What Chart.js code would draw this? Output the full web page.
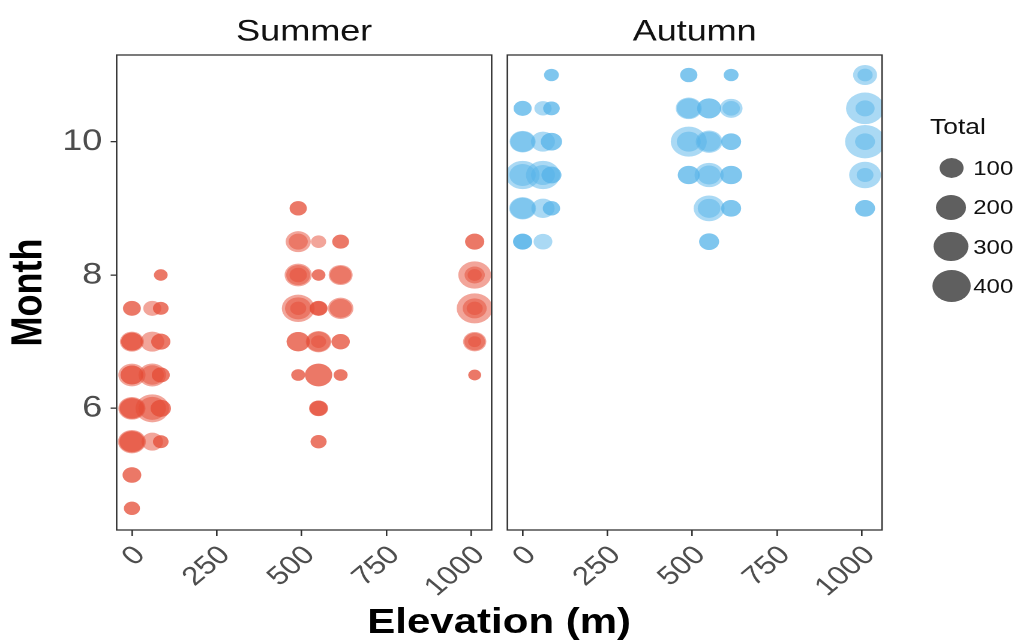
<!DOCTYPE html>
<html>
<head>
<meta charset="utf-8">
<script src="https://cdn.jsdelivr.net/npm/chart.js@4/dist/chart.umd.min.js"></script>
<style>
  html, body { margin: 0; padding: 0; background: #fff; overflow: hidden; }
  #wrap { position: absolute; left: 0; top: 0; width: 852px; height: 644px;
          transform: scaleX(1.2); transform-origin: 0 0; font-family: "Liberation Sans", Arial, sans-serif; }
  .panel { position: absolute; top: 0; height: 644px; }
  #xtitle { position: absolute; left: 216px; width: 400px; top: 603px; text-align: center;
            font-weight: bold; font-size: 35px; line-height: 35px; color: #000; }
  #legend { position: absolute; left: 775px; top: 114px; width: 80px; }
  #legend .ttl { position: absolute; left: 0; top: 0; font-size: 22px; line-height: 26px; color: #111; white-space: nowrap; }
  #legend .key { position: absolute; background: #5f5f5f; border-radius: 50%; }
  #legend .lab { position: absolute; left: 36px; font-size: 20px; line-height: 24px; color: #111; }
</style>
</head>
<body>
<div id="wrap">
  <div class="panel" style="left:0;width:412px"><canvas id="summer"></canvas></div>
  <div class="panel" style="left:412px;width:330px"><canvas id="autumn"></canvas></div>
  <div id="xtitle">Elevation (m)</div>
  <div id="legend"></div>
</div>
<script>
// Summer points: elevation (m), month, total
var summerElevation = [0,0, 0,0,0, 0,0,0, 0,0,0, 0,0,0, 0,0, 0,0,
  60, 60, 60,60, 60,60, 60,
  85,85, 85,85, 85,85, 85,85, 85,85, 85,85,
  490,490, 490,490, 490,490,490, 490,490,490, 490,490, 490,490,
  550, 550,550, 550,550,550, 550,550,550, 550,550, 550,550,550, 550,550,
  615,615, 615,615, 615,615, 615,615, 615,615,
  1010,1010, 1010,1010,1010, 1010,1010,1010, 1010,1010,1010, 1010,1010]
var summerMonth = [7.5,7.5, 7,7,7, 6.5,6.5,6.5, 6,6,6, 5.5,5.5,5.5, 5,5, 4.5,4.5,
  7.5, 7, 6.5,6.5, 6,6, 5.5,
  8,8, 7.5,7.5, 7,7, 6.5,6.5, 6,6, 5.5,5.5,
  9,9, 8.5,8.5, 8,8,8, 7.5,7.5,7.5, 7,7, 6.5,6.5,
  8.5, 8,8, 7.5,7.5,7.5, 7,7,7, 6.5,6.5, 6,6,6, 5.5,5.5,
  8.5,8.5, 8,8, 7.5,7.5, 7,7, 6.5,6.5,
  8.5,8.5, 8,8,8, 7.5,7.5,7.5, 7,7,7, 6.5,6.5]
var summerTotal = [34,30, 100,70,70, 150,84,84, 150,120,100, 163,130,110, 40,40, 20,20,
  34, 100, 156,90, 278,156, 69,
  8,8, 17,17, 44,44, 34,34, 56,56, 17,17,
  28,28, 117,44, 150,100,30, 260,136,20, 90,90, 9,9,
  15, 8,8, 34,34,25, 123,100,15, 150,150, 41,41,30, 20,20,
  25,25, 100,69, 123,80, 37,37, 9,9,
  44,44, 260,55,10, 336,100,20, 90,60,6, 5,5]

// Autumn points: elevation (m), month, total
var autumnElevation = [0,0, 0,0, 0,0, 0,0, 0,0,0,
  60, 60, 60,60, 60, 60,
  85,85, 85,85, 85,85, 85,85, 85,85,
  490,490, 490,490, 490,490, 490,490,
  550,550, 550,550, 550,550, 550,550, 550,550,
  615,615, 615,615, 615,615, 615,615, 615,615,
  1010,1010, 1010,1010, 1010,1010, 1010,1010, 1010,1010]
var autumnMonth = [10.5,10.5, 10,10, 9.5,9.5, 9,9, 8.5,8.5,8.5,
  10.5, 10, 9.5,9.5, 9, 8.5,
  11,11, 10.5,10.5, 10,10, 9.5,9.5, 9,9,
  11,11, 10.5,10.5, 10,10, 9.5,9.5,
  10.5,10.5, 10,10, 9.5,9.5, 9,9, 8.5,8.5,
  11,11, 10.5,10.5, 10,10, 9.5,9.5, 9,9,
  11,11, 10.5,10.5, 10,10, 9.5,9.5, 9,9]
var autumnTotal = [34,34, 130,110, 287,136, 143,120, 44,44,40,
  28, 100, 287,100, 90, 41,
  13,13, 23,23, 65,65, 52,52, 28,28,
  28,28, 130,100, 336,100, 74,74,
  100,100, 143,100, 185,84, 218,84, 52,52,
  13,13, 84,30, 52,52, 74,74, 52,52,
  100,15, 390,44, 445,52, 238,25, 52,52]

var elevationTicks = [0, 250, 500, 750, 1000]
var monthTicks = [6, 8, 10]
var legendTotals = [100, 200, 300, 400]

var FONT = "'Liberation Sans', Arial, sans-serif"
Chart.defaults.font.family = FONT

// size scale: bubble radius from total
function sizeOf(total) {
  return 4 + 0.6 * Math.sqrt(total)
}

function points(elev, month, total) {
  var out = []
  for (var i = 0; i < elev.length; i++) {
    out.push({ x: elev[i], y: month[i], r: sizeOf(total[i]) })
  }
  return out
}

var panelBox = {
  id: 'panelBox',
  afterDraw: function(chart) {
    var a = chart.chartArea, ctx = chart.ctx
    ctx.save()
    ctx.strokeStyle = '#333'
    ctx.lineWidth = 1.3
    ctx.strokeRect(a.left, a.top, a.right - a.left, a.bottom - a.top)
    ctx.restore()
  }
}

function makeChart(id, title, data, color, showY, pad) {
  var ctx = document.getElementById(id).getContext('2d')
  return new Chart(ctx, {
    type: 'bubble',
    data: {
      datasets: [{
        label: title,
        data: data,
        backgroundColor: color,
        borderWidth: 0,
        hoverBorderWidth: 0
      }]
    },
    plugins: [panelBox],
    options: {
      responsive: true,
      maintainAspectRatio: false,
      devicePixelRatio: 2,
      animation: false,
      events: [],
      layout: { padding: pad, autoPadding: false },
      plugins: {
        legend: { display: false },
        tooltip: { enabled: false },
        title: {
          display: true,
          fullSize: false,
          text: title,
          color: '#111',
          font: { size: 30, weight: 'normal' },
          padding: { top: 14, bottom: 5 }
        }
      },
      scales: {
        x: {
          type: 'linear',
          min: -45,
          max: 1060,
          afterBuildTicks: function(axis) {
            axis.ticks = elevationTicks.map(function(v) { return { value: v } })
          },
          afterFit: function(axis) {
            axis.height = 114
            axis.paddingLeft = 0
            axis.paddingRight = 0
          },
          grid: { drawOnChartArea: false, drawTicks: true, tickLength: 6, color: '#333', lineWidth: 1.3 },
          border: { display: false },
          ticks: { color: '#4d4d4d', font: { size: 26 }, minRotation: 45, maxRotation: 45,
                   autoSkip: false, padding: 4, labelOffset: 7,
                   callback: function(v) { return String(v) } }
        },
        y: {
          type: 'linear',
          display: showY,
          min: 4.175,
          max: 11.3,
          afterBuildTicks: function(axis) {
            axis.ticks = monthTicks.map(function(v) { return { value: v } })
          },
          afterFit: function(axis) {
            if (showY) axis.width = 97.2
            axis.paddingTop = 0
            axis.paddingBottom = 0
          },
          grid: { drawOnChartArea: false, drawTicks: true, tickLength: 5, color: '#333', lineWidth: 1.3 },
          border: { display: false },
          ticks: { color: '#4d4d4d', font: { size: 30 }, padding: 7 },
          title: { display: true, text: 'Month', color: '#000',
                   font: { size: 36, weight: 'bold' }, padding: { top: 3, bottom: 0 } }
        }
      }
    }
  })
}

makeChart('summer', 'Summer', points(summerElevation, summerMonth, summerTotal),
  'rgba(230, 75, 53, 0.5)', true, { left: 0, right: 2.3, top: 0, bottom: 0 })
makeChart('autumn', 'Autumn', points(autumnElevation, autumnMonth, autumnTotal),
  'rgba(86, 180, 233, 0.5)', false, { left: 10.8, right: 7, top: 0, bottom: 0 })

// size legend
var legend = document.getElementById('legend')
var ttl = document.createElement('div')
ttl.className = 'ttl'
ttl.textContent = 'Total'
legend.appendChild(ttl)
legendTotals.forEach(function(v, i) {
  var cy = 54 + i * 39.3
  var r = sizeOf(v)
  var key = document.createElement('div')
  key.className = 'key'
  key.style.left = (17.5 - r) + 'px'
  key.style.top = (cy - r) + 'px'
  key.style.width = (2 * r) + 'px'
  key.style.height = (2 * r) + 'px'
  legend.appendChild(key)
  var lab = document.createElement('div')
  lab.className = 'lab'
  lab.style.top = (cy - 12) + 'px'
  lab.textContent = v
  legend.appendChild(lab)
})
</script>
</body>
</html>
